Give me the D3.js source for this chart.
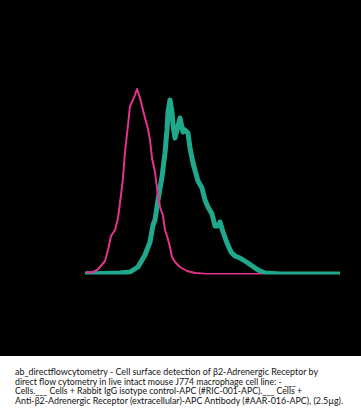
<!DOCTYPE html>
<html>
<head>
<meta charset="utf-8">
<style>
  body { margin: 0; background: #fff; }
  svg { display: block; }
</style>
</head>
<body>
<svg id="chart" width="361" height="416"></svg>
<script src="https://d3js.org/d3.v7.min.js"></script>
<script>
  // fluorescence channel vs event count
  var isotypeChannel = [1, 7, 12, 15, 20, 23, 26, 30, 33, 36, 38, 40, 43, 45, 48, 50, 52, 55, 60, 63, 65, 67, 70, 72, 75, 78, 80, 82, 85, 87, 90, 95, 102, 110, 122, 177];
  var isotypeCount   = [2, 1.5, 4, 7, 13, 24, 38, 44, 56, 79, 96, 122, 149, 168, 174, 179, 185, 176, 156, 145, 134, 116, 102, 86, 67, 58, 44, 38, 27, 17, 12, 7, 3, 1, 0, 0];

  var antibodyChannel = [0, 35, 45, 53, 60, 65, 68, 70, 73, 77, 80, 82, 83, 85, 87, 88, 90, 93, 95, 98, 100, 103, 105, 108, 113, 117, 120, 123, 127, 130, 133, 135, 138, 142, 146, 150, 155, 163, 173, 180, 195, 255];
  var antibodyCount   = [0, 1, 2, 7, 19, 32, 49, 54, 74, 97, 121, 144, 162, 174, 162, 149, 136, 148, 156, 142, 144, 141, 126, 111, 93, 86, 74, 67, 60, 48, 48, 52, 42, 31, 22, 18, 16, 11, 4, 1, 0, 0];

  var captionLines = [
    "ab_directflowcytometry - Cell surface detection of \u03b22-Adrenergic Receptor by",
    "direct flow cytometry in live intact mouse J774 macrophage cell line: - ___",
    "Cells.___ Cells + Rabbit IgG isotype control-APC (#RIC-001-APC).___ Cells +",
    "Anti-\u03b22-Adrenergic Receptor (extracellular)-APC Antibody (#AAR-016-APC), (2.5\u00b5g)."
  ];
  var captionWidths = [303, 281, 287, 328];

  var svg = d3.select("#chart");
  var W = 361, plotH = 356;

  svg.append("rect").attr("width", W).attr("height", plotH).attr("fill", "#000");

  var x = d3.scaleLinear().domain([0, 256]).range([85, 341]);
  var y = d3.scaleLinear().domain([0, 185]).range([274, 89]);

  svg.append("clipPath").attr("id", "plotclip")
    .append("rect").attr("x", 0).attr("y", 0).attr("width", W).attr("height", y(0) + 0.5);

  var line = d3.line()
    .x(function (d) { return x(d[0]); })
    .y(function (d) { return y(d[1]); });

  var g = svg.append("g").attr("clip-path", "url(#plotclip)");

  g.append("path")
    .datum(d3.zip(antibodyChannel, antibodyCount))
    .attr("fill", "none")
    .attr("stroke", "#1fa88b")
    .attr("stroke-width", 5)
    .attr("stroke-linejoin", "round")
    .attr("d", line);

  g.append("path")
    .datum(d3.zip(isotypeChannel, isotypeCount))
    .attr("fill", "none")
    .attr("stroke", "#e3338e")
    .attr("stroke-width", 2)
    .attr("stroke-linejoin", "round")
    .attr("d", line);

  svg.append("g")
    .selectAll("text")
    .data(captionLines)
    .enter().append("text")
    .attr("x", 15)
    .attr("y", function (d, i) { return 375 + i * 9.6; })
    .attr("textLength", function (d, i) { return captionWidths[i]; })
    .attr("lengthAdjust", "spacingAndGlyphs")
    .attr("font-family", "Lato, 'Open Sans', sans-serif")
    .attr("font-size", "9px")
    .attr("fill", "#111")
    .text(function (d) { return d; });
</script>
</body>
</html>
